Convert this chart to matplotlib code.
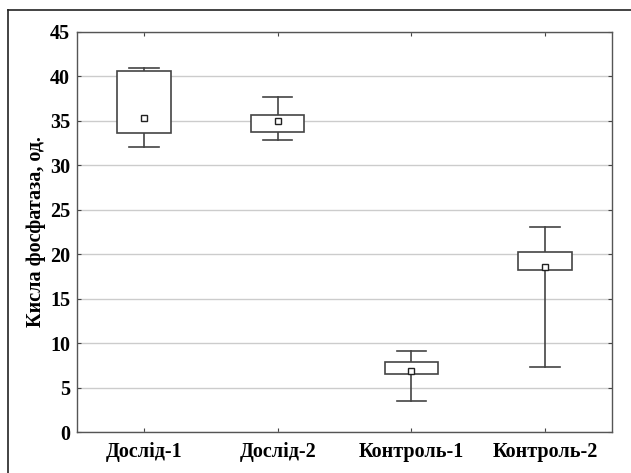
import matplotlib
matplotlib.use("Agg")
import matplotlib.pyplot as plt
from matplotlib.patches import Rectangle
from matplotlib.lines import Line2D

# values (mean, box low/high, whisker low/high)
groups = ["Дослід-1", "Дослід-2", "Контроль-1", "Контроль-2"]
means = [35.3, 35.0, 6.9, 18.6]
box_low = [33.6, 33.8, 6.5, 18.2]
box_high = [40.6, 35.7, 7.9, 20.3]
whisk_low = [32.1, 32.8, 3.5, 7.3]
whisk_high = [40.9, 37.7, 9.1, 23.1]
yticks = [0, 5, 10, 15, 20, 25, 30, 35, 40, 45]

plt.rcParams['font.family'] = ['Liberation Serif', 'DejaVu Serif']
plt.rcParams['font.weight'] = 'bold'

fig = plt.figure(figsize=(6.31, 4.73), dpi=100)
ax = fig.add_axes([77 / 631, 1 - 432 / 473, 535 / 631, 400 / 473])

line_col = "#444444"
box_w = 0.4
cap_w = 0.22

for i in range(len(groups)):
    # whiskers
    ax.plot([i, i], [whisk_low[i], box_low[i]], color=line_col, lw=1.2, zorder=3)
    ax.plot([i, i], [box_high[i], whisk_high[i]], color=line_col, lw=1.2, zorder=3)
    ax.plot([i - cap_w / 2, i + cap_w / 2], [whisk_low[i]] * 2, color=line_col, lw=1.2, zorder=3)
    ax.plot([i - cap_w / 2, i + cap_w / 2], [whisk_high[i]] * 2, color=line_col, lw=1.2, zorder=3)
    # box
    ax.add_patch(Rectangle((i - box_w / 2, box_low[i]), box_w, box_high[i] - box_low[i],
                           facecolor="white", edgecolor=line_col, lw=1.2, zorder=4))
    # mean marker
    ax.plot(i, means[i], marker="s", ms=4.5, mfc="white", mec="#222222", mew=1.0, zorder=5)

ax.set_xlim(-0.5, 3.5)
ax.set_ylim(0, 45)
ax.set_yticks(yticks)
ax.set_xticks(range(len(groups)))
ax.set_xticklabels(groups, fontsize=14.5, fontweight="bold")
ax.set_yticklabels([str(v) for v in yticks], fontsize=14.5, fontweight="bold")
ax.yaxis.grid(True, color="#cccccc", lw=1.0)
ax.set_axisbelow(True)
ax.tick_params(direction="in", length=3, width=0.8, color=line_col,
               top=True, right=True)
ax.tick_params(axis="y", pad=5)
ax.tick_params(axis="x", pad=7)
for s in ax.spines.values():
    s.set_color("#555555")
    s.set_linewidth(1.0)

ax.set_ylabel("Кисла фосфатаза, од.", fontsize=14.5, fontweight="bold", labelpad=3)

# outer frame around the whole chart
fig.add_artist(Line2D([8 / 631, 8 / 631], [0, 1 - 10 / 473], transform=fig.transFigure,
                      color="#222222", lw=1.2))
fig.add_artist(Line2D([8 / 631, 1], [1 - 10 / 473, 1 - 10 / 473], transform=fig.transFigure,
                      color="#222222", lw=1.2))

fig.savefig("out.png", dpi=100)
